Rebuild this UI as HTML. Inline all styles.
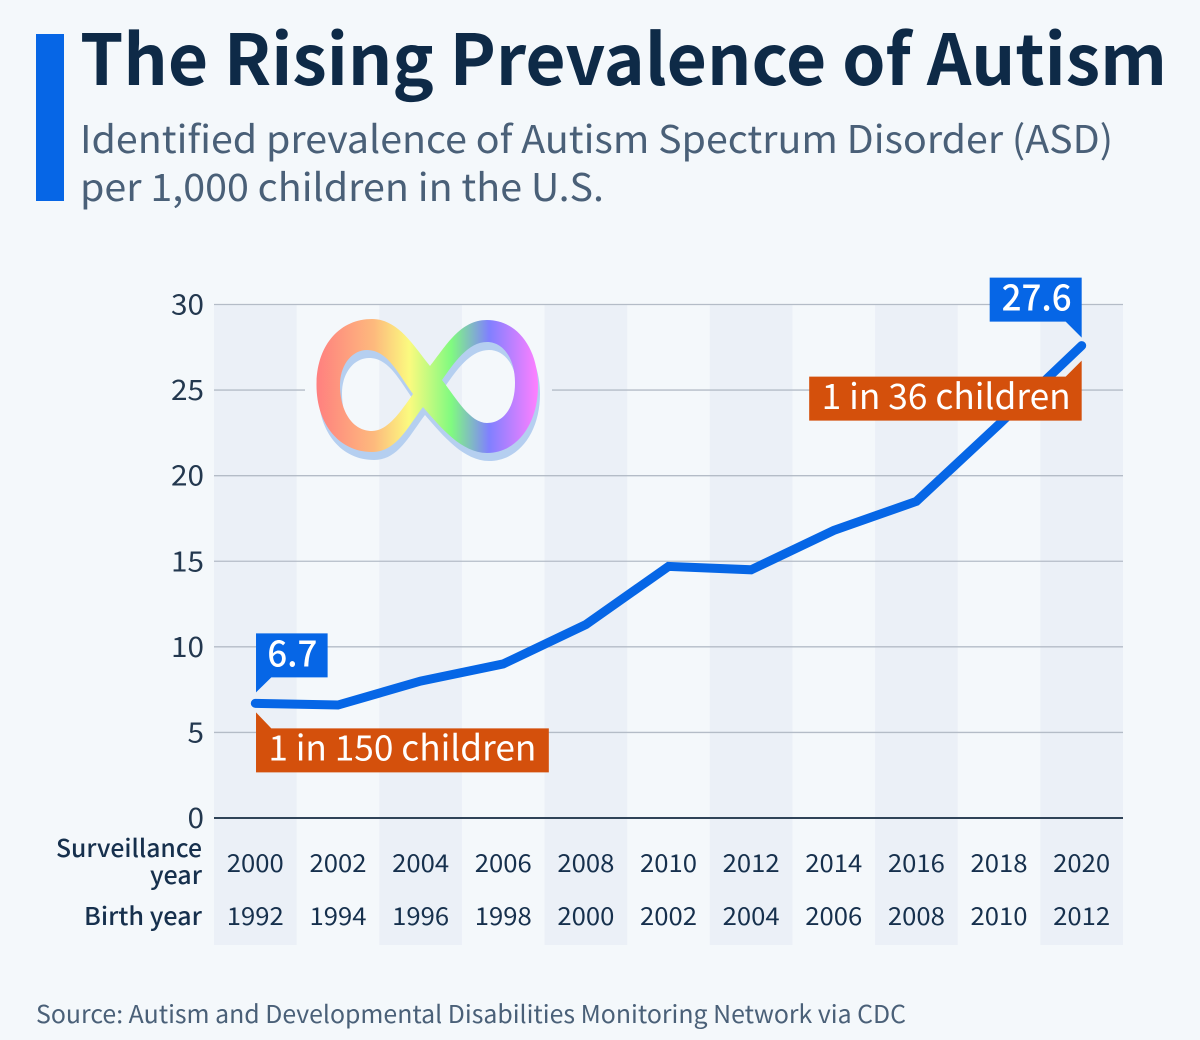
<!DOCTYPE html>
<html lang="en">
<head>
<meta charset="utf-8">
<title>The Rising Prevalence of Autism</title>
<style>
html,body{margin:0;padding:0;background:#f4f8fb;width:1200px;height:1040px;overflow:hidden}
svg{display:block;font-family:"Noto Sans CJK JP","Liberation Sans",sans-serif}
</style>
</head>
<body>
<svg id="chart" width="1200" height="1040" viewBox="0 0 1200 1040" xmlns="http://www.w3.org/2000/svg">
  <defs>
    <linearGradient id="rainbow" gradientUnits="userSpaceOnUse" x1="316" y1="0" x2="538" y2="0">
      <stop offset="0" stop-color="#ff7f7f"/>
      <stop offset="0.26" stop-color="#fdb97d"/>
      <stop offset="0.42" stop-color="#fbfa7f"/>
      <stop offset="0.61" stop-color="#80fa80"/>
      <stop offset="0.78" stop-color="#8080ff"/>
      <stop offset="1" stop-color="#ff80ff"/>
    </linearGradient>
    <path id="infinity-shape" fill-rule="evenodd" d="M316.5 385C316.5 345 340 319 372 319C398 319 413 345 430 366C446 346 460 320 487 320C517 320 538 348 538 386C538 424 517 453 487 453C462 453 441 428 423 407C407 428 396 452 372 452C340 452 316.5 425 316.5 385ZM340 385C340 412 353 431 372 431C388 431 401 411 413 394C398 374 388 350 367 350C352 350 340 365 340 385ZM442 380C456 398 470 423 487 423C503 423 515 408 515 383C515 358 503 342 487 342C468 342 454 363 442 380Z"/>
  </defs>
  <rect x="0" y="0" width="1200" height="1040" fill="#f4f8fb"/>
  <rect x="36" y="34" width="28" height="167" fill="#0666e6"/>
  <text x="80" y="85" font-size="70" font-weight="700" fill="#0e2a47" textLength="1087" lengthAdjust="spacingAndGlyphs">The Rising Prevalence of Autism</text>
  <text x="80" y="153" font-size="38" fill="#4a6078" textLength="1033" lengthAdjust="spacingAndGlyphs">Identified prevalence of Autism Spectrum Disorder (ASD)</text>
  <text x="80" y="201" font-size="38" fill="#4a6078" textLength="524" lengthAdjust="spacingAndGlyphs">per 1,000 children in the U.S.</text>

  <g id="bands"></g>
  <g id="grid"></g>
  <g id="yticks"></g>

  <g>
    <use href="#infinity-shape" x="2" y="8" fill="#b5cff0"/>
    <use href="#infinity-shape" fill="url(#rainbow)"/>
  </g>

  <g id="series"></g>

  <text x="202" y="857" font-size="24.5" font-weight="500" text-anchor="end" fill="#16304d" textLength="146" lengthAdjust="spacingAndGlyphs">Surveillance</text>
  <text x="202" y="884" font-size="24.5" font-weight="500" text-anchor="end" fill="#16304d" textLength="52" lengthAdjust="spacingAndGlyphs">year</text>
  <text x="202" y="925" font-size="24.5" font-weight="500" text-anchor="end" fill="#16304d" textLength="118" lengthAdjust="spacingAndGlyphs">Birth year</text>
  <g id="xlabels"></g>

  <text x="36" y="1023" font-size="24.5" fill="#4a6078" textLength="870" lengthAdjust="spacingAndGlyphs">Source: Autism and Developmental Disabilities Monitoring Network via CDC</text>
</svg>
<script>
const surveillanceYears = ["2000","2002","2004","2006","2008","2010","2012","2014","2016","2018","2020"];
const birthYears = ["1992","1994","1996","1998","2000","2002","2004","2006","2008","2010","2012"];
const prevalence = [6.7, 6.6, 8.0, 9.0, 11.3, 14.7, 14.5, 16.8, 18.5, 23.0, 27.6];
const yTicks = [0, 5, 10, 15, 20, 25, 30];

const NS = "http://www.w3.org/2000/svg";
const plotLeft = 214, plotRight = 1123, plotTop = 304.5, plotBottom = 818, bandBottom = 945, yMax = 30;
const bandW = (plotRight - plotLeft) / surveillanceYears.length;
function xScale(i){ return plotLeft + bandW * (i + 0.5); }
function yScale(v){ return plotBottom - (v / yMax) * (plotBottom - plotTop); }
function make(tag, attrs, parent, text){
  const el = document.createElementNS(NS, tag);
  for (const k in attrs) el.setAttribute(k, attrs[k]);
  if (text !== undefined) el.textContent = text;
  parent.appendChild(el);
  return el;
}
const bands = document.getElementById("bands");
const grid = document.getElementById("grid");
const yticksG = document.getElementById("yticks");
const xlabels = document.getElementById("xlabels");
const series = document.getElementById("series");

surveillanceYears.forEach(function(y, i){
  if (i % 2 === 0) {
    const b = make("rect", {x: plotLeft + bandW * i, y: plotTop, width: bandW, height: bandBottom - plotTop, fill: "#ebf0f7"}, bands);
    
    
  }
  const a = make("text", {x: xScale(i), y: 872, "font-size": 24.5, "text-anchor": "middle", fill: "#16304d", textLength: 57, lengthAdjust: "spacingAndGlyphs"}, xlabels, y);
  
  
  const c = make("text", {x: xScale(i), y: 925, "font-size": 24.5, "text-anchor": "middle", fill: "#16304d", textLength: 57, lengthAdjust: "spacingAndGlyphs"}, xlabels, birthYears[i]);
  
  
});

yTicks.forEach(function(t){
  const yy = yScale(t);
  const baseline = t === 0;
  const stroke = baseline ? "#2f4358" : "#b4bcc7";
  const w = baseline ? 2 : 1.3;
  if (t === 25) {
    const l1 = make("line", {x1: plotLeft, x2: 305, y1: yy, y2: yy, stroke: stroke, "stroke-width": w}, grid);
    
    
    const l2 = make("line", {x1: 552, x2: plotRight, y1: yy, y2: yy, stroke: stroke, "stroke-width": w}, grid);
    
    
  } else {
    const l = make("line", {x1: plotLeft, x2: plotRight, y1: yy, y2: yy, stroke: stroke, "stroke-width": w}, grid);
    
    
  }
  const lab = make("text", {x: 204, y: yy + 10, "font-size": 28, "text-anchor": "end", fill: "#23384f", textLength: String(t).length * 16.5, lengthAdjust: "spacingAndGlyphs"}, yticksG, String(t));
  
  
});

const last = prevalence.length - 1;
const fx = xScale(0), fy = yScale(prevalence[0]);
const lx = xScale(last), ly = yScale(prevalence[last]);

const startCallout = make("g", {transform: "translate(" + fx + "," + fy + ")"}, series);


make("path", {d: "M0.7 -70H72.3V-26H16L0.7 -11Z", fill: "#0666e6"}, startCallout);
make("text", {x: 12, y: -37, "font-size": 36, "font-weight": 500, fill: "#ffffff", textLength: 50, lengthAdjust: "spacingAndGlyphs"}, startCallout, prevalence[0].toFixed(1));

const endCallout = make("g", {transform: "translate(" + lx + "," + ly + ")"}, series);


make("path", {d: "M0 -68H-92V-24H-16L0 -8Z", fill: "#0666e6"}, endCallout);
make("text", {x: -80, y: -35, "font-size": 36, "font-weight": 500, fill: "#ffffff", textLength: 70, lengthAdjust: "spacingAndGlyphs"}, endCallout, prevalence[last].toFixed(1));

const pts = prevalence.map(function(v, i){ return xScale(i) + "," + yScale(v); }).join(" ");
const line = make("polyline", {points: pts, fill: "none", stroke: "#0666e6", "stroke-width": 9, "stroke-linecap": "round", "stroke-linejoin": "miter"}, series);



const startRatio = make("g", {transform: "translate(" + fx + "," + fy + ")"}, series);


make("path", {d: "M0.7 9L16 25H293.5V69H0.7Z", fill: "#d4500c"}, startRatio);
make("text", {x: 13, y: 57, "font-size": 35, fill: "#ffffff", textLength: 268, lengthAdjust: "spacingAndGlyphs"}, startRatio, "1 in 150 children");

const endRatio = make("g", {transform: "translate(" + lx + "," + ly + ")"}, series);


make("path", {d: "M0 15L-16 31H-272.5V75H0Z", fill: "#d4500c"}, endRatio);
make("text", {x: -260, y: 63.5, "font-size": 35, fill: "#ffffff", textLength: 249, lengthAdjust: "spacingAndGlyphs"}, endRatio, "1 in 36 children");
</script>
</body>
</html>
